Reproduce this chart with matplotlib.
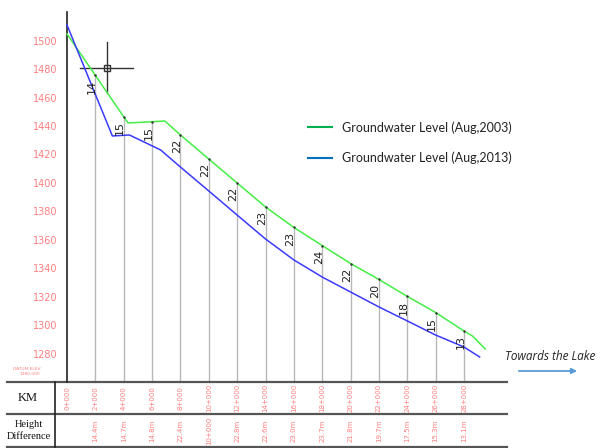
import numpy as np
import matplotlib
matplotlib.use('Agg')
import matplotlib.pyplot as plt
from matplotlib.lines import Line2D

# Groundwater profile data (chainage in km, elevation in m)
km_2003 = [0, 4.3, 6.9, 8, 10, 12, 14, 16, 18, 20, 22, 24, 26, 28, 28.6, 29.5]
gw_2003 = [1504.6, 1442.1, 1443.5, 1433.7, 1416.8, 1400.0, 1383.2, 1368.8,
           1356.1, 1343.5, 1332.3, 1320.4, 1309.1, 1296.1, 1292.6, 1283.5]
km_2013 = [0, 3.2, 4.4, 6.6, 8, 10, 12, 14, 16, 18, 20, 22, 24, 26, 28, 29.1]
gw_2013 = [1510.9, 1433.0, 1433.7, 1423.2, 1411.2, 1394.4, 1377.5, 1360.7,
           1346.0, 1334.0, 1323.5, 1313.0, 1303.2, 1293.3, 1284.9, 1277.9]

stations = [0, 2, 4, 6, 8, 10, 12, 14, 16, 18, 20, 22, 24, 26, 28]
station_labels = ["0+000", "2+000", "4+000", "6+000", "8+000", "10+000", "12+000",
                  "14+000", "16+000", "18+000", "20+000", "22+000", "24+000",
                  "26+000", "28+000"]
height_diff_labels = ["", "14.4m", "14.7m", "14.8m", "22.4m", "10+000", "22.8m",
                      "22.6m", "23.0m", "23.7m", "21.8m", "19.7m", "17.5m",
                      "15.3m", "13.1m"]
diff_marks = ["", "14", "15", "15", "22", "22", "22", "23", "23", "24", "22",
              "20", "18", "15", "13"]
y_ticks = [1280, 1300, 1320, 1340, 1360, 1380, 1400, 1420, 1440, 1460, 1480, 1500]

pink = '#ff7f7f'


# layout helpers: picture pixels -> data units
def dx(px):
    return (px - 67) / 14.18


def dy(py):
    return 1500 - (py - 40.5) / 1.425


fig = plt.figure(figsize=(6.01, 4.48), dpi=100)
ax = fig.add_axes([0, 0, 1, 1])
ax.set_xlim(dx(0), dx(601))
ax.set_ylim(dy(448), dy(0))
ax.patch.set_alpha(0)

table_top = dy(382)
table_mid = dy(414)
table_bot = dy(447)

# left axis line with elevation labels
for s in ['top', 'right', 'bottom']:
    ax.spines[s].set_visible(False)
ax.spines['left'].set_position(('data', 0))
ax.spines['left'].set_bounds(table_top, dy(12))
ax.spines['left'].set_color('#222222')
ax.spines['left'].set_linewidth(1.2)
ax.set_xticks([])
ax.set_yticks(y_ticks)
ax.tick_params(axis='y', length=0, pad=7, labelsize=7, labelcolor=pink)

# station verticals, from the 2003 level down to the table
tops = np.interp(stations, km_2003, gw_2003)
for st, top in zip(stations[1:], tops[1:]):
    ax.plot([st, st], [table_top, top], color='#b8b8b8', lw=1.0, zorder=1)
    ax.plot([st], [top], marker='.', ms=1.5, color='#333333', zorder=4)

# profile lines
ax.plot(km_2003, gw_2003, color='#44ee44', lw=1.1, zorder=3)
ax.plot(km_2013, gw_2013, color='#3a3aff', lw=1.1, zorder=3)

# height difference marks on the chart
for st, top, lab in zip(stations, tops, diff_marks):
    if lab:
        ax.annotate(lab, (st, top), xytext=(1, -3), textcoords='offset points',
                    rotation=90, ha='right', va='top', fontsize=8, color='#222222')

# CAD cursor
ax.plot([dx(80), dx(133)], [dy(68), dy(68)], color='#333333', lw=1)
ax.plot([dx(107), dx(107)], [dy(42), dy(93)], color='#333333', lw=1)
ax.plot([dx(107)], [dy(68)], marker='s', ms=5, mfc='none', mec='#333333', mew=1)

# legend
handles = [Line2D([], [], color='#00b050', lw=1.5),
           Line2D([], [], color='#0070c0', lw=1.5)]
leg = ax.legend(handles, ['Groundwater Level (Aug,2003)', 'Groundwater Level (Aug,2013)'],
                loc='upper left', bbox_to_anchor=(297 / 601, 1 - 110 / 448),
                frameon=False, handlelength=1.9, handletextpad=0.8,
                labelspacing=1.45, prop={'family': 'Lato', 'size': 9})
for t in leg.get_texts():
    t.set_color('#222222')

# lake direction
ax.text(dx(505), dy(357), 'Towards the Lake', fontsize=8.5, style='italic',
        family='Open Sans', color='#222222', va='center', ha='left')
ax.annotate('', xy=(dx(580), dy(371)), xytext=(dx(516), dy(371)),
            arrowprops=dict(arrowstyle='-|>', color='#5b9bd5', lw=1.3,
                            mutation_scale=8))

# datum
ax.text(dx(27), dy(369), 'DATUM ELEV.', fontsize=3.2, color=pink, ha='center', va='center')
ax.text(dx(30), dy(374), '1280.000', fontsize=3.2, color=pink, ha='center', va='center')

# table below
for yy in [table_top, table_mid, table_bot]:
    ax.plot([dx(7), dx(507)], [yy, yy], color='#555555', lw=1.6, zorder=2)
ax.plot([dx(55), dx(55)], [table_top, table_bot], color='#222222', lw=1.2)
ax.text(dx(28), (table_top + table_mid) / 2, 'KM', family='Liberation Serif',
        fontsize=9, ha='center', va='center', color='#111111')
ax.text(dx(29), (table_mid + table_bot) / 2, 'Height\nDifference', family='Liberation Serif',
        fontsize=7.5, ha='center', va='center', color='#111111', linespacing=1.3)
for st, lab, hd in zip(stations, station_labels, height_diff_labels):
    ax.text(st, (table_top + table_mid) / 2, lab, rotation=90, fontsize=5,
            color=pink, ha='center', va='center')
    if hd:
        ax.text(st, (table_mid + table_bot) / 2, hd, rotation=90, fontsize=5,
                color=pink, ha='center', va='center')

plt.savefig('out.png', dpi=100)
plt.close()
